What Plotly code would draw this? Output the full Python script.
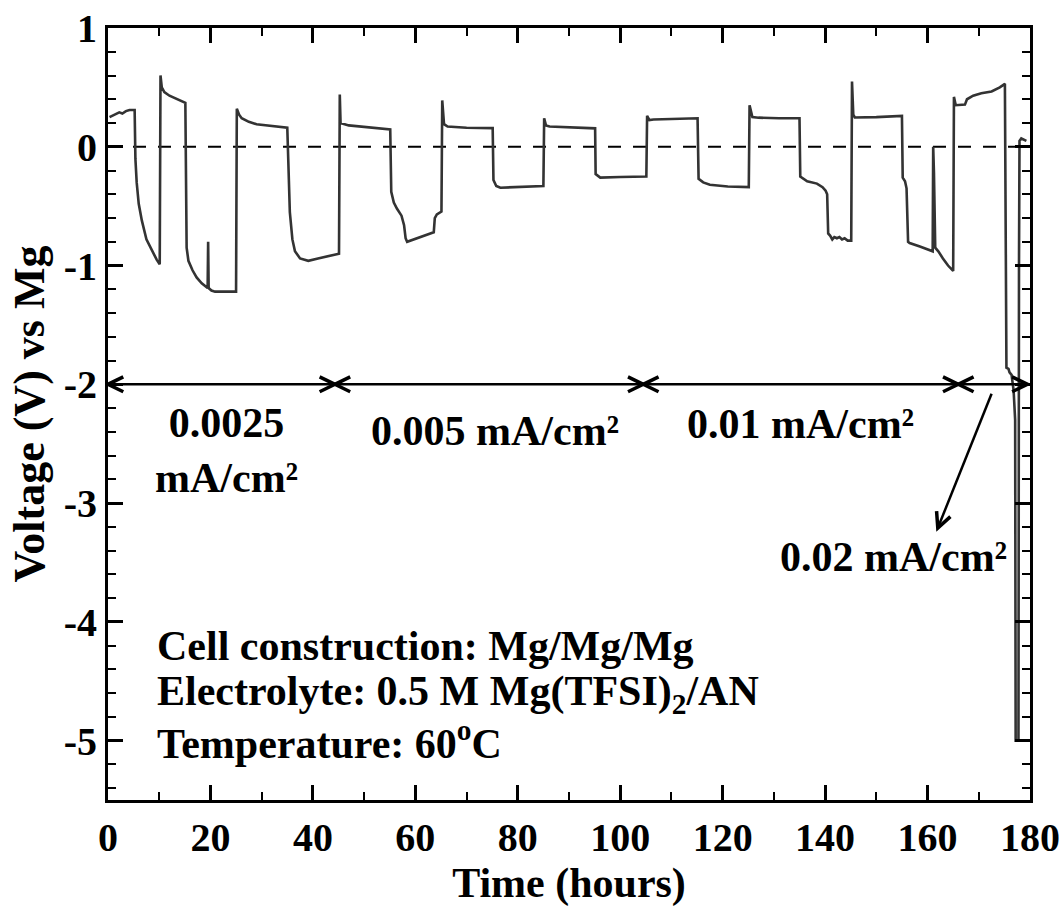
import math
import plotly.graph_objects as go

# Galvanostatic cycling of a Mg/Mg/Mg cell: time (h) and voltage (V vs Mg)
time_h = [
    0.3, 0.8, 1.5, 2.2, 2.8, 3.5, 4.2, 5.2,
    5.35, 5.6, 6.0, 6.6, 7.5, 8.5, 9.5, 10.1,
    10.25, 10.5, 11.0, 12.0, 13.5, 15.1,
    15.35, 15.7, 16.5, 17.3, 18.3, 19.45, 19.55, 19.65, 20.2, 20.9, 23.0, 25.0,
    25.15, 25.6, 26.1, 27.5, 29.0, 32.0, 35.0,
    35.2, 35.5, 36.0, 36.5, 37.5, 39.1, 41.0, 43.0, 45.1,
    45.25, 45.4, 47.0, 49.2, 52.0, 55.1,
    55.3, 55.8, 56.4, 57.3, 57.8, 58.1, 58.4, 61.0, 63.6, 63.8, 64.2, 65.1,
    65.25, 65.6, 66.3, 70.0, 75.1,
    75.25, 75.8, 76.6, 80.0, 85.0,
    85.15, 85.5, 86.2, 90.0, 95.1,
    95.2, 96.1, 100.0, 105.1,
    105.25, 105.7, 106.5, 110.0, 115.1,
    115.3, 116.2, 117.5, 121.0, 125.1,
    125.25, 125.8, 127.0, 131.0, 135.0,
    135.15, 136.5, 138.4, 139.5, 140.1, 140.4, 140.6, 141.0, 141.4, 141.8,
    142.3, 142.8, 143.3, 143.8, 144.4, 145.1,
    145.25, 145.5, 145.8, 150.0, 155.0,
    155.15, 155.6, 155.9, 156.2, 156.5, 158.5, 161.0,
    161.1, 161.25, 161.5, 162.1, 163.0, 164.0, 165.0,
    165.15, 165.5, 166.5, 167.3, 167.7, 168.9, 170.5, 172.5, 174.1, 175.1,
    175.4, 175.8, 176.0, 176.4, 176.8, 177.1, 177.2, 177.6, 177.75,
    177.85, 177.95, 178.3, 178.8, 179.3,
]
voltage_v = [
    0.25, 0.26, 0.27, 0.29, 0.28, 0.30, 0.31, 0.31,
    -0.10, -0.30, -0.48, -0.62, -0.78, -0.87, -0.95, -0.99,
    0.60, 0.50, 0.46, 0.43, 0.40, 0.37,
    -0.85, -0.96, -1.04, -1.10, -1.15, -1.19, -0.80, -1.19, -1.21, -1.22, -1.22, -1.22,
    0.32, 0.27, 0.24, 0.21, 0.19, 0.175, 0.16,
    -0.12, -0.55, -0.78, -0.88, -0.94, -0.96, -0.94, -0.92, -0.90,
    0.44, 0.20, 0.18, 0.17, 0.16, 0.146,
    -0.38, -0.47, -0.52, -0.58, -0.66, -0.77, -0.80, -0.76, -0.72, -0.60, -0.57, -0.545,
    0.39, 0.19, 0.17, 0.16, 0.157,
    -0.28, -0.33, -0.345, -0.34, -0.33,
    0.24, 0.18, 0.17, 0.165, 0.155,
    -0.23, -0.26, -0.255, -0.25,
    0.26, 0.225, 0.23, 0.235, 0.24,
    -0.27, -0.30, -0.32, -0.335, -0.34,
    0.35, 0.25, 0.245, 0.24, 0.24,
    -0.25, -0.29, -0.31, -0.34, -0.37, -0.40, -0.73, -0.75, -0.78, -0.76,
    -0.77, -0.76, -0.78, -0.77, -0.79, -0.79,
    0.55, 0.27, 0.247, 0.25, 0.26,
    -0.26, -0.29, -0.35, -0.80, -0.81, -0.84, -0.88,
    0.0, -0.22, -0.85, -0.88, -0.94, -1.0, -1.045,
    0.42, 0.35, 0.35, 0.355, 0.40, 0.43, 0.45, 0.466, 0.50, 0.53,
    -1.86, -1.87, -1.90, -1.92, -2.05, -2.3, -5.0, -5.0, -5.0,
    -1.0, 0.05, 0.07, 0.06, 0.05,
]

# Axis ticks
x_ticks = list(range(0, 181, 20))
y_ticks = [1, 0, -1, -2, -3, -4, -5]
y_tick_text = ["1", "0", "-1", "-2", "-3", "-4", "-5"]

# Current-density regimes (boundaries in hours) and their labels
regime_edges = [0, 44.3, 104.5, 166.0, 179.5]
regime_labels = ["0.0025<br>mA/cm²", "0.005 mA/cm²", "0.01 mA/cm²", "0.02 mA/cm²"]
regime_label_x = [23.2, 75.6, 135.1, 153.3]
regime_label_y = [-2.56, -2.39, -2.33, -3.45]
arrow_level = -2.0
pointer_tail = (172.5, -2.08)
pointer_tip = (162.0, -3.21)

info_lines = [
    "Cell construction: Mg/Mg/Mg",
    "Electrolyte: 0.5 M Mg(TFSI)<sub>2</sub>/AN",
    "Temperature: 60<sup>o</sup>C",
]
info_y = [-4.20, -4.61, -5.0]

FONT = "Liberation Serif"
BLACK = "#000000"
X_RANGE = [0, 180]
Y_RANGE = [-5.5, 1]
W, H = 1063, 907
MARGIN = dict(l=108, r=33, t=28, b=107)
px_per_x = (W - MARGIN["l"] - MARGIN["r"]) / (X_RANGE[1] - X_RANGE[0])
px_per_y = (H - MARGIN["t"] - MARGIN["b"]) / (Y_RANGE[1] - Y_RANGE[0])

HEAD_LEN = 17
HEAD_HALF_ANGLE = math.radians(26)


def chevron(tip_x, tip_y, back_dx, back_dy):
    """Open arrowhead at a data point; (back_dx, back_dy) points from the tip
    towards the tail in pixel space (y up)."""
    n = math.hypot(back_dx, back_dy)
    ux, uy = back_dx / n, back_dy / n
    pts = []
    for s in (1, -1):
        c, si = math.cos(s * HEAD_HALF_ANGLE), math.sin(s * HEAD_HALF_ANGLE)
        pts.append((HEAD_LEN * (ux * c - uy * si), HEAD_LEN * (ux * si + uy * c)))
    path = f"M{pts[0][0]:.2f},{pts[0][1]:.2f} L0,0 L{pts[1][0]:.2f},{pts[1][1]:.2f}"
    return dict(type="path", path=path, xref="x", yref="y",
                xsizemode="pixel", ysizemode="pixel", xanchor=tip_x, yanchor=tip_y,
                line=dict(color=BLACK, width=3.5), layer="above")


fig = go.Figure()
fig.add_trace(go.Scatter(
    x=time_h, y=voltage_v, mode="lines",
    line=dict(color="#333333", width=2.6),
    showlegend=False, cliponaxis=True,
))

shapes = []
# dashed 0 V reference
shapes.append(dict(type="line", xref="x", yref="y", x0=X_RANGE[0], x1=X_RANGE[1], y0=0, y1=0,
                   line=dict(color=BLACK, width=2, dash="13px,12px"), layer="below"))
# regime bar with double-headed arrows
shapes.append(dict(type="line", xref="x", yref="y", x0=regime_edges[0], x1=regime_edges[-1],
                   y0=arrow_level, y1=arrow_level, line=dict(color=BLACK, width=2.5)))
for a, b in zip(regime_edges[:-1], regime_edges[1:]):
    shapes.append(chevron(a, arrow_level, 1, 0))
    shapes.append(chevron(b, arrow_level, -1, 0))
# pointer towards the 0.02 mA/cm² label
shapes.append(dict(type="line", xref="x", yref="y",
                   x0=pointer_tail[0], y0=pointer_tail[1], x1=pointer_tip[0], y1=pointer_tip[1],
                   line=dict(color=BLACK, width=2.5)))
shapes.append(chevron(pointer_tip[0], pointer_tip[1],
                      (pointer_tail[0] - pointer_tip[0]) * px_per_x,
                      (pointer_tail[1] - pointer_tip[1]) * px_per_y))

annotations = []
for txt, lx, ly in zip(regime_labels, regime_label_x, regime_label_y):
    annotations.append(dict(
        x=lx, y=ly, xref="x", yref="y", text=txt, showarrow=False,
        xanchor="center", yanchor="middle",
        font=dict(family=FONT, size=42, color=BLACK, weight="bold"),
    ))
for txt, ly in zip(info_lines, info_y):
    annotations.append(dict(
        x=9.2, y=ly, xref="x", yref="y", text=txt, showarrow=False,
        xanchor="left", yanchor="middle",
        font=dict(family=FONT, size=42, color=BLACK, weight="bold"),
    ))

axis_common = dict(
    showline=True, linecolor=BLACK, linewidth=3, mirror="allticks",
    ticks="inside", tickcolor=BLACK, tickwidth=3, ticklen=15,
    showgrid=False, zeroline=False, automargin=False,
    tickfont=dict(family=FONT, size=40, color=BLACK, weight="bold"),
)

fig.update_layout(
    width=W, height=H,
    margin=MARGIN,
    plot_bgcolor="white", paper_bgcolor="white",
    font=dict(family=FONT, color=BLACK, weight="bold"),
    shapes=shapes,
    annotations=annotations,
    xaxis=dict(
        range=X_RANGE, tickmode="array", tickvals=x_ticks,
        minor=dict(dtick=10, ticks="inside", ticklen=8, tickwidth=2, tickcolor=BLACK),
        title=dict(text="Time (hours)", font=dict(family=FONT, size=42, color=BLACK, weight="bold"),
                   standoff=8),
        **axis_common,
    ),
    yaxis=dict(
        range=Y_RANGE, tickmode="array", tickvals=y_ticks, ticktext=y_tick_text,
        minor=dict(dtick=0.2, tick0=0, ticks="inside", ticklen=8, tickwidth=2, tickcolor=BLACK),
        title=dict(text="Voltage (V) vs Mg", font=dict(family=FONT, size=44, color=BLACK, weight="bold"),
                   standoff=6),
        **axis_common,
    ),
)

fig.write_html("out.html")
